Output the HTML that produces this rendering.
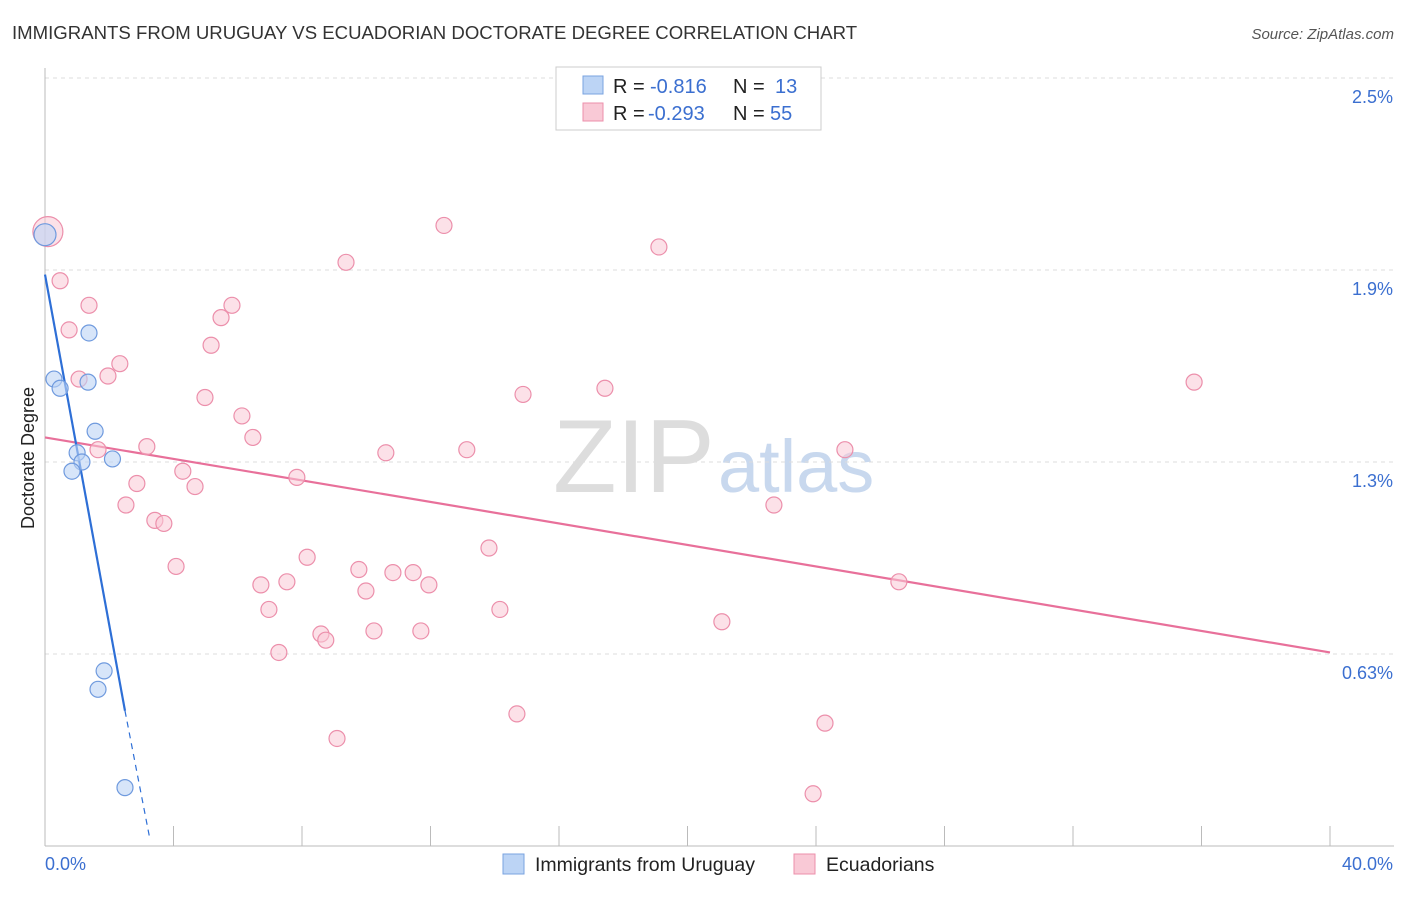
<!DOCTYPE html>
<html><head><meta charset="utf-8"><style>
body{margin:0;background:#fff;font-family:"Liberation Sans",sans-serif}
svg text{font-family:"Liberation Sans",sans-serif}
</style></head><body>
<svg width="1406" height="892" xmlns="http://www.w3.org/2000/svg">
<text x="12" y="39" font-size="18.6" fill="#333">IMMIGRANTS FROM URUGUAY VS ECUADORIAN DOCTORATE DEGREE CORRELATION CHART</text>
<text x="1394" y="39" font-size="15" fill="#555" font-style="italic" text-anchor="end">Source: ZipAtlas.com</text>
<text x="34" y="458" font-size="18" fill="#222" transform="rotate(-90 34 458)" text-anchor="middle">Doctorate Degree</text>
<g><text x="553" y="492" font-size="104" fill="#ddd" font-family="Liberation Serif">ZIP</text><text x="718" y="492" font-size="74" fill="#c8d8ee">atlas</text></g>
<g id="grid"></g><g id="ticks"></g><g id="lines"></g><g id="pts"></g>
<g font-size="20">
<rect x="556" y="67" width="265" height="63" fill="#fff" stroke="#ccc"/>
<rect x="583" y="76" width="20" height="18" fill="#bcd4f5" stroke="#7aa3e0"/>
<text x="613" y="93" fill="#222">R =</text><text x="650" y="93" fill="#3b6fd0">-0.816</text>
<text x="733" y="93" fill="#222">N =</text><text x="775" y="93" fill="#3b6fd0">13</text>
<rect x="583" y="103" width="20" height="18" fill="#f9c9d6" stroke="#ec8fab"/>
<text x="613" y="120" fill="#222">R =</text><text x="648" y="120" fill="#3b6fd0">-0.293</text>
<text x="733" y="120" fill="#222">N =</text><text x="770" y="120" fill="#3b6fd0">55</text>
</g>
<g>
<rect x="503" y="854" width="21" height="20" fill="#bcd4f5" stroke="#7aa3e0"/>
<text x="535" y="871" font-size="19.5" fill="#222">Immigrants from Uruguay</text>
<rect x="794" y="854" width="21" height="20" fill="#f9c9d6" stroke="#ec8fab"/>
<text x="826" y="871" font-size="19.5" fill="#222">Ecuadorians</text>
</g>
</svg>
<script>
const yTicks=[0.625,1.25,1.875,2.5];
const yTickLabels=["0.63%","1.3%","1.9%","2.5%"];
const xTicks=[0,4,8,12,16,20,24,28,32,36,40];
const blueX=[0,1.37,0.28,0.47,1.34,1.56,1,1.15,0.84,2.1,1.84,1.65,2.49];
const blueY=[1.99,1.67,1.52,1.49,1.51,1.35,1.28,1.25,1.22,1.26,0.57,0.51,0.19];
const pinkX=[0.09,0.47,1.37,0.75,5.82,5.48,5.17,2.33,1.96,1.06,4.98,6.13,6.47,3.17,1.65,4.29,2.86,4.67,2.52,3.42,3.7,4.08,7.84,10.61,8.16,6.72,7.53,6.97,9.77,10.83,11.46,11.95,9.99,8.59,8.74,10.24,11.7,7.28,9.09,12.42,19.11,9.37,14.88,17.43,13.13,13.82,14.16,14.69,21.07,22.69,24.9,26.58,24.28,23.91,35.77];
const pinkY=[2.0,1.84,1.76,1.68,1.76,1.72,1.63,1.57,1.53,1.52,1.46,1.4,1.33,1.3,1.29,1.22,1.18,1.17,1.11,1.06,1.05,0.91,1.2,1.28,0.94,0.85,0.86,0.77,0.9,0.89,0.89,0.85,0.83,0.69,0.67,0.7,0.7,0.63,0.35,2.02,1.95,1.9,1.47,1.49,1.29,0.97,0.77,0.43,0.73,1.11,1.29,0.86,0.4,0.17,1.51];
const blueLine=[[0,1.86],[2.49,0.44]];
const blueDash=[[2.49,0.44],[3.27,0.02]];
const pinkLine=[[0,1.33],[40,0.63]];
const NS="http://www.w3.org/2000/svg";
const X=v=>45+v/40*1285, Y=v=>846-v/2.5*768;
function mk(t,a,p){const e=document.createElementNS(NS,t);for(const k in a)e.setAttribute(k,a[k]);document.getElementById(p).appendChild(e);return e;}
yTicks.forEach((t,i)=>{
 const l=mk('line',{x1:45,x2:1394,y1:Y(t),y2:Y(t),stroke:'#ddd','stroke-dasharray':'4,4'},'grid');
 
 
 const tx=mk('text',{x:1393,y:Y(t)+25,'font-size':18,fill:'#3b6fd0','text-anchor':'end'},'grid');
 tx.textContent=yTickLabels[i];
 
 
});
const ax=mk('line',{x1:45,x2:45,y1:68,y2:846,stroke:'#bbb'},'ticks');


const bx=mk('line',{x1:45,x2:1394,y1:846,y2:846,stroke:'#bbb'},'ticks');


xTicks.forEach(t=>{const l=mk('line',{x1:X(t),x2:X(t),y1:826,y2:846,stroke:'#bbb'},'ticks');
 
 });
[["0.0%",45,'start'],["40.0%",1393,'end']].forEach(a=>{const t=mk('text',{x:a[1],y:870,'font-size':18,fill:'#3b6fd0','text-anchor':a[2]},'ticks');t.textContent=a[0];
 
 });
pinkX.forEach((v,i)=>{const c=mk('circle',{cx:X(v),cy:Y(pinkY[i]),r:i==0?15:8,fill:'#f9c9d6','fill-opacity':0.55,stroke:'#ec8fab','stroke-width':1.2},'pts');
 
 });
blueX.forEach((v,i)=>{const c=mk('circle',{cx:X(v),cy:Y(blueY[i]),r:i==0?11:8,fill:'#bcd4f5','fill-opacity':0.6,stroke:'#6f9ade','stroke-width':1.2},'pts');
 
 });
let l1=mk('line',{x1:X(pinkLine[0][0]),y1:Y(pinkLine[0][1]),x2:X(pinkLine[1][0]),y2:Y(pinkLine[1][1]),stroke:'#e8709a','stroke-width':2.2},'lines');


let l2=mk('line',{x1:X(blueLine[0][0]),y1:Y(blueLine[0][1]),x2:X(blueLine[1][0]),y2:Y(blueLine[1][1]),stroke:'#2e6fd6','stroke-width':2.2},'lines');


let l3=mk('line',{x1:X(blueDash[0][0]),y1:Y(blueDash[0][1]),x2:X(blueDash[1][0]),y2:Y(blueDash[1][1]),stroke:'#2e6fd6','stroke-width':1.2,'stroke-dasharray':'6,5'},'lines');


</script>
</body></html>
